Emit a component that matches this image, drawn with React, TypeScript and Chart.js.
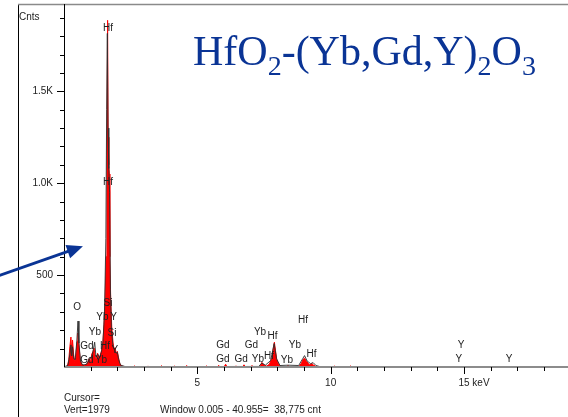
import React, { useEffect, useRef } from "react";
import { Chart, registerables } from "chart.js";

Chart.register(...registerables);

// Red filled EDS spectrum (keV, counts)
const spectrumKeV = [
  0, 0.12, 0.18, 0.22, 0.26, 0.29, 0.32, 0.36, 0.4, 0.44, 0.49, 0.52, 0.56, 0.61, 0.68, 0.78,
  0.88, 0.94, 0.99, 1.04, 1.09, 1.13, 1.17, 1.21, 1.26, 1.31, 1.36, 1.41, 1.46, 1.5, 1.54, 1.58,
  1.61, 1.635, 1.655, 1.68, 1.7, 1.72, 1.75, 1.79, 1.84, 1.88, 1.92, 1.96, 2.0, 2.04, 2.09, 2.16,
  2.26, 2.45, 2.6, 2.65, 2.7, 3.1, 3.15, 3.2, 3.6, 3.65, 3.7, 4.1, 4.15, 4.2, 4.55, 4.6, 4.65,
  5.3, 5.35, 5.4, 5.75, 5.8, 5.85, 6.0, 6.06, 6.12, 6.4, 6.45, 6.5, 6.7, 6.75, 6.8, 7.0, 7.05,
  7.1, 7.35, 7.42, 7.5, 7.6, 7.7, 7.8, 7.86, 7.89, 7.93, 7.98, 8.06, 8.15, 8.35, 8.4, 8.45, 8.8,
  8.9, 8.97, 9.02, 9.1, 9.2, 9.3, 9.36, 9.45, 9.55, 10.1, 10.15, 10.2, 10.7, 10.75, 10.8, 18.9,
];
const spectrumCounts = [
  0, 0, 40, 110, 163, 80, 147, 70, 25, 50, 140, 185, 120, 35, 12, 10,
  20, 45, 25, 70, 85, 103, 55, 35, 75, 45, 65, 90, 140, 230, 360, 600,
  1150, 1886, 1250, 1100, 1050, 600, 380, 220, 130, 95, 105, 70, 85, 55, 20, 6,
  2, 0, 0, 6, 0, 0, 5, 0, 0, 7, 0, 0, 5, 0, 0, 8, 0,
  0, 6, 0, 0, 9, 0, 0, 15, 0, 0, 6, 0, 0, 12, 0, 0, 8,
  0, 0, 25, 10, 5, 15, 50, 110, 135, 90, 40, 10, 0, 0, 8, 0, 0,
  20, 42, 48, 30, 12, 18, 10, 3, 0, 0, 5, 0, 0, 6, 0, 0,
];

// Dark outline trace (keV, counts)
const profileKeV = [
  0, 0.15, 0.22, 0.26, 0.29, 0.32, 0.37, 0.42, 0.48, 0.525, 0.56, 0.62, 0.7, 0.85, 0.95, 1.05,
  1.1, 1.15, 1.2, 1.27, 1.33, 1.4, 1.46, 1.52, 1.57, 1.6, 1.625, 1.65, 1.68, 1.71, 1.74, 1.78,
  1.84, 1.9, 1.95, 2.0, 2.05, 2.12, 2.3, 3.0, 7.3, 7.42, 7.55, 7.75, 7.88, 7.97, 8.1, 8.4, 8.8,
  8.95, 9.02, 9.12, 9.25, 9.34, 9.45, 9.6, 18.9,
];
const profileCounts = [
  0, 10, 70, 120, 60, 110, 45, 40, 140, 250, 130, 30, 10, 15, 40, 60,
  95, 135, 55, 70, 50, 80, 130, 300, 700, 1400, 1815, 1300, 1080, 950, 420, 200,
  110, 90, 75, 80, 40, 10, 2, 2, 3, 22, 10, 35, 128, 45, 8, 10, 8,
  45, 62, 32, 18, 24, 8, 2, 2,
];

const yTickValues = [500, 1000, 1500];
const yTickLabels = ["500", "1.0K", "1.5K"];
const xTickValues = [5, 10, 15];
const xTickLabels = ["5", "10", "15"];
const xUnit = "keV";
const yAxisTitle = "Cnts";
const X_MAX = 18.9;
const Y_MAX = 1975;

// Peak identification labels
const peakNames = [
  "Hf", "Hf", "O", "Si", "Yb", "Y", "Yb", "Si", "Gd", "Hf", "Y", "Gd", "Yb",
  "Gd", "Gd", "Gd", "Gd", "Yb", "Hf", "Yb", "Hf", "Yb", "Yb", "Hf", "Hf",
  "Y", "Y", "Y",
];
const peakKeV = [
  1.65, 1.65, 0.49, 1.65, 1.44, 1.86, 1.16, 1.8, 0.86, 1.54, 1.91, 0.86, 1.39,
  5.96, 5.96, 6.64, 7.03, 7.35, 7.82, 7.27, 7.69, 8.36, 8.66, 8.96, 9.28,
  14.89, 14.81, 16.69,
];
const peakCounts = [
  1842, 1005, 326, 348, 272, 272, 190, 185, 114, 114, 92, 38, 38,
  120, 43, 43, 117, 187, 166, 41, 60, 38, 117, 253, 71,
  120, 43, 43,
];

const titleTexts = ["HfO", "2", "-(Yb,Gd,Y)", "2", "O", "3"];
const titleSub = [false, true, false, true, false, true];
const cursorText = "Cursor=";
const vertText = "Vert=1979";
const windowText = "Window 0.005 - 40.955=  38,775 cnt";

const SANS = "'Liberation Sans', Arial, sans-serif";
const SERIF = "'Liberation Serif', 'Times New Roman', serif";
const TEXT = "#222";

const decor = {
  id: "decor",
  beforeDraw(chart: any) {
    const { ctx } = chart;
    ctx.save();
    ctx.fillStyle = "#fff";
    ctx.fillRect(0, 0, chart.width, chart.height);
    ctx.restore();
  },
  afterDatasetsDraw(chart: any) {
    const { ctx, chartArea: a } = chart;
    const x = chart.scales.x;
    const y = chart.scales.y;
    ctx.save();

    // outer frame
    ctx.strokeStyle = "#000";
    ctx.lineWidth = 1;
    ctx.beginPath();
    ctx.moveTo(18.5, a.top);
    ctx.lineTo(18.5, chart.height);
    ctx.stroke();
    ctx.strokeStyle = "#8a8a8a";
    ctx.lineWidth = 1.5;
    ctx.beginPath();
    ctx.moveTo(18, a.top + 0.5);
    ctx.lineTo(chart.width, a.top + 0.5);
    ctx.stroke();

    // baseline
    ctx.strokeStyle = "#8c8c8c";
    ctx.lineWidth = 2;
    ctx.beginPath();
    ctx.moveTo(a.left, a.bottom);
    ctx.lineTo(a.right, a.bottom);
    ctx.stroke();

    // y axis line
    ctx.strokeStyle = "#000";
    ctx.lineWidth = 1;
    ctx.beginPath();
    ctx.moveTo(a.left + 0.5, a.top);
    ctx.lineTo(a.left + 0.5, a.bottom);
    ctx.stroke();

    // y ticks
    ctx.beginPath();
    for (const t of y.ticks) {
      if (t.value <= 0) continue;
      const py = Math.round(y.getPixelForValue(t.value)) + 0.5;
      const len = t.value % 500 === 0 ? 7 : 4;
      ctx.moveTo(a.left, py);
      ctx.lineTo(a.left - len, py);
    }
    // x ticks
    for (const t of x.ticks) {
      if (t.value <= 0) continue;
      const px = Math.round(x.getPixelForValue(t.value)) + 0.5;
      const len = t.value % 5 === 0 ? 7 : 4;
      ctx.moveTo(px, a.bottom);
      ctx.lineTo(px, a.bottom + len);
    }
    ctx.stroke();

    ctx.fillStyle = TEXT;
    ctx.font = `10px ${SANS}`;
    // unit after 15
    const p15 = x.getPixelForValue(xTickValues[2]);
    const w15 = ctx.measureText(xTickLabels[2]).width;
    const sp = ctx.measureText(" ").width;
    ctx.textAlign = "left";
    ctx.textBaseline = "middle";
    ctx.fillText(xUnit, p15 + w15 / 2 + sp, a.bottom + 16);

    // peak labels
    ctx.textAlign = "center";
    ctx.textBaseline = "middle";
    for (let i = 0; i < peakNames.length; i++) {
      ctx.fillText(peakNames[i], x.getPixelForValue(peakKeV[i]), y.getPixelForValue(peakCounts[i]));
    }

    // axis title and status lines
    ctx.textAlign = "left";
    ctx.fillText(yAxisTitle, 19, 17);
    ctx.fillText(cursorText, a.left, 398);
    ctx.fillText(vertText, a.left, 410);
    ctx.fillText(windowText, 160, 410);

    // title with subscripts
    let tx = 193;
    const base = 65;
    ctx.fillStyle = "#0a3495";
    ctx.textBaseline = "alphabetic";
    for (let i = 0; i < titleTexts.length; i++) {
      ctx.font = titleSub[i] ? `28px ${SERIF}` : `42px ${SERIF}`;
      const dy = titleSub[i] ? 10 : 0;
      ctx.fillText(titleTexts[i], tx, base + dy);
      tx += ctx.measureText(titleTexts[i]).width;
    }

    // arrow pointing at the spectrum
    const tipX = x.getPixelForValue(0.71);
    const tipY = y.getPixelForValue(657);
    const dx = 0.944;
    const dyv = -0.33;
    const px = 0.33;
    const py = 0.944;
    ctx.strokeStyle = "#0a3495";
    ctx.fillStyle = "#0a3495";
    ctx.lineWidth = 3;
    ctx.beginPath();
    ctx.moveTo(tipX - 110 * dx, tipY - 110 * dyv);
    ctx.lineTo(tipX - 12 * dx, tipY - 12 * dyv);
    ctx.stroke();
    const bx = tipX - 16 * dx;
    const by = tipY - 16 * dyv;
    ctx.beginPath();
    ctx.moveTo(tipX, tipY);
    ctx.lineTo(bx + 7 * px, by + 7 * py);
    ctx.lineTo(bx - 7 * px, by - 7 * py);
    ctx.closePath();
    ctx.fill();

    ctx.restore();
  },
};

export default function App() {
  const ref = useRef<HTMLCanvasElement>(null);
  useEffect(() => {
    document.body.style.margin = "0";
    const canvas = ref.current;
    if (!canvas) return;
    const chart = new Chart(canvas, {
      type: "line",
      data: {
        datasets: [
          {
            label: "outline",
            data: profileKeV.map((k, i) => ({ x: k, y: profileCounts[i] })),
            borderColor: "rgba(45,45,45,0.9)",
            borderWidth: 1,
            pointRadius: 0,
            fill: false,
            tension: 0,
            order: 0,
          },
          {
            label: "spectrum",
            data: spectrumKeV.map((k, i) => ({ x: k, y: spectrumCounts[i] })),
            borderColor: "#ff0000",
            backgroundColor: "#ff0000",
            borderWidth: 1,
            pointRadius: 0,
            fill: "origin",
            tension: 0,
            order: 1,
          },
        ],
      },
      options: {
        animation: false,
        responsive: false,
        events: [],
        layout: { padding: { top: 4, left: 0, right: 0, bottom: 0 } },
        plugins: {
          legend: { display: false },
          tooltip: { enabled: false },
          title: { display: false },
        },
        scales: {
          x: {
            type: "linear",
            min: 0,
            max: X_MAX,
            afterFit: (s: any) => {
              s.height = 50;
              s.paddingLeft = 0;
              s.paddingRight = 0;
            },
            grid: { display: false, drawTicks: false },
            border: { display: false },
            ticks: {
              stepSize: 1,
              autoSkip: false,
              includeBounds: false,
              maxRotation: 0,
              padding: 10,
              color: TEXT,
              font: { family: SANS, size: 10 },
              callback: (v: any) => {
                const i = xTickValues.indexOf(Number(v));
                return i >= 0 ? xTickLabels[i] : "";
              },
            },
          },
          y: {
            type: "linear",
            min: 0,
            max: Y_MAX,
            afterFit: (s: any) => {
              s.width = 64;
              s.paddingTop = 0;
              s.paddingBottom = 0;
            },
            grid: { display: false, drawTicks: false },
            border: { display: false },
            ticks: {
              stepSize: 100,
              autoSkip: false,
              includeBounds: false,
              padding: 11,
              color: TEXT,
              font: { family: SANS, size: 10 },
              callback: (v: any) => {
                const i = yTickValues.indexOf(Number(v));
                return i >= 0 ? yTickLabels[i] : "";
              },
            },
          },
        },
      },
      plugins: [decor],
    } as any);
    return () => chart.destroy();
  }, []);
  return (
    <div style={{ position: "absolute", left: 0, top: 0, width: 568, height: 417 }}>
      <canvas ref={ref} width={568} height={417} style={{ display: "block" }} />
    </div>
  );
}
